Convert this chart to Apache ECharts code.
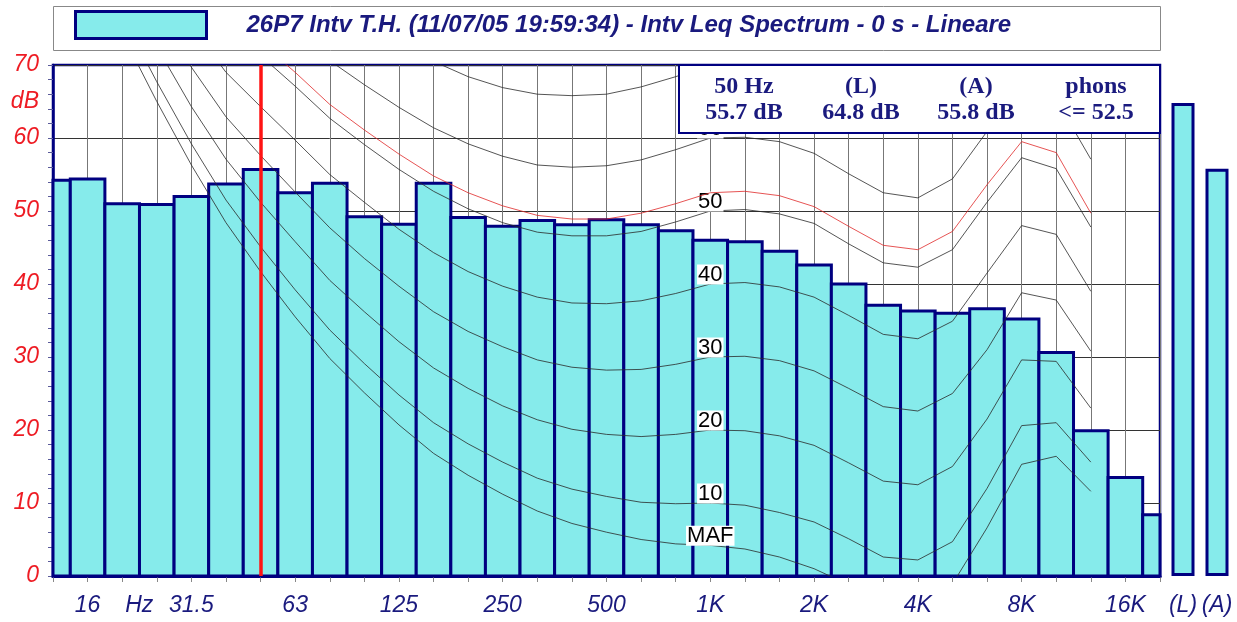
<!DOCTYPE html>
<html>
<head>
<meta charset="utf-8">
<script src="https://cdn.jsdelivr.net/npm/echarts@6/dist/echarts.min.js"></script>
<style>html,body{margin:0;padding:0;background:#fff;}#c{width:1237px;height:622px;}</style>
</head>
<body>
<div id="c"></div>
<script>
// 1/3-octave band centres (12.5 Hz .. 20 kHz)
const categories = ['12.5','16','20','25','31.5','40','50','63','80','100','125','160','200','250','315','400','500','630','800','1K','1.25K','1.6K','2K','2.5K','3.15K','4K','5K','6.3K','8K','10K','12.5K','16K','20K'];
const xTickLabels = ['','16','Hz','','31.5','','','63','','','125','','','250','','','500','','','1K','','','2K','','','4K','','','8K','','','16K',''];
// Leq spectrum (dB)
const levels = [54.2,54.4,51.0,50.9,52.0,53.7,55.7,52.5,53.8,49.2,48.2,53.8,49.1,47.9,48.7,48.1,48.8,48.1,47.3,46.0,45.8,44.5,42.6,40.0,37.1,36.3,36.0,36.6,35.2,30.6,19.9,13.5,8.4];
// overall values
const totalCats = ['(L)','(A)'];
const totalValues = [64.8,55.8];
const seriesTitle = '26P7 Intv T.H. (11/07/05 19:59:34) - Intv Leq Spectrum - 0 s - Lineare';
// equal-loudness contours (dB), per band
const contourMAF = [null,null,74.3,65.0,56.3,48.4,41.7,35.5,29.8,25.1,20.7,16.8,13.8,11.2,8.9,7.2,6.0,5.0,4.4,4.2,3.7,2.6,1.0,-1.2,-3.6,-3.9,-1.1,6.6,15.3,16.4,11.6,null,null];
const contour10 = [null,null,76.8,67.7,59.2,51.5,45.1,39.2,33.7,29.1,24.8,21.0,18.1,15.6,13.4,11.9,10.9,10.1,9.9,10,9.7,8.7,7.4,5.1,2.6,2.2,4.7,12.0,20.6,21.0,15.6,null,null];
const contour20 = [null,null,81.3,72.5,64.3,57.1,51.2,45.8,40.5,36.2,32.1,28.5,25.7,23.3,21.4,20.1,19.4,19.1,19.4,20,19.9,19.2,17.9,15.5,13.0,12.5,15.0,21.5,29.6,29.4,23.0,null,null];
const contour30 = [null,null,86.0,77.6,69.7,62.9,57.6,52.6,47.7,43.5,39.7,36.2,33.5,31.4,29.6,28.6,28.2,28.3,29.0,30,30.1,29.5,28.1,25.7,23.2,22.6,25.0,31.0,38.8,37.8,30.8,null,null];
const contour40 = [null,null,91.0,82.9,75.4,69.0,64.3,59.7,55.0,51.2,47.5,44.3,41.7,39.7,38.2,37.4,37.3,37.7,38.7,40,40.2,39.6,38.2,35.7,33.1,32.5,34.9,41.5,48.0,46.8,39.0,null,null];
const contour50 = [null,null,96.2,88.5,81.3,75.4,71.3,67.1,62.7,59.1,55.7,52.7,50.3,48.4,47.1,46.6,46.6,47.2,48.5,50,50.2,49.6,48.3,45.5,42.9,42.3,44.7,51.2,57.3,55.8,47.8,null,null];
const contour60 = [null,null,101.7,94.4,87.6,82.1,78.6,74.8,70.6,67.3,64.2,61.4,59.2,57.5,56.3,56.0,56.2,57.0,58.4,60,60.1,59.5,57.9,55.1,52.5,51.8,54.4,60.9,66.8,65.3,57.1,null,null];
const contour70 = [null,null,107.6,100.7,94.3,89.2,86.4,82.8,78.9,75.8,73.0,70.5,68.4,66.9,66.0,65.8,66.0,67.0,68.4,70,70.0,69.3,67.3,64.5,61.8,61.3,64.0,70.7,76.5,75.0,66.5,null,null];
const contourLoudness = [null,null,97.6,90.0,82.9,77.1,73.1,69.0,64.6,61.1,57.8,54.8,52.5,50.7,49.4,48.9,48.9,49.7,51.0,52.5,52.7,52.1,50.6,47.9,45.3,44.7,47.2,53.6,59.5,58.0,49.7,null,null];
const cursorIndex = 6;
const infoCols = [['50 Hz','55.7 dB'],['(L)','64.8 dB'],['(A)','55.8 dB'],['phons','<= 52.5']];

const NAVY = '#000080';
const TXT = '#1a1a7e';
const FILL = '#86ebeb';
const labelIdx = 19;
const lastIdx = categories.length - 1;

function contourSeries(name, values, showLabel, color, z) {
  return {
    name: name, type: 'line', xAxisIndex: 0, yAxisIndex: 0,
    symbol: 'none', showSymbol: true, silent: true, z: z || 3, clip: true,
    lineStyle: { color: color || '#2a2a2a', width: 0.8 },
    data: values.map(function (v, i) {
      if (showLabel && i === labelIdx) {
        return { value: [i, v], symbol: 'circle', symbolSize: 1,
          itemStyle: { color: '#2a2a2a' },
          label: { show: true, position: 'top', distance: -1, formatter: name,
            color: '#000', fontSize: 22, fontFamily: 'Liberation Sans',
            backgroundColor: '#fff', padding: [0, 1], lineHeight: 20 } };
      }
      return [i, v];
    })
  };
}

function renderBand(params, api) {
  const i = api.value(0), v = api.value(1);
  const p0 = api.coord([i - 0.5, v]);
  const p1 = api.coord([i + 0.5, 0]);
  const cs = params.coordSys;
  const shape = echarts.graphic.clipRectByRect(
    { x: p0[0], y: p0[1], width: p1[0] - p0[0], height: p1[1] - p0[1] },
    { x: cs.x, y: cs.y, width: cs.width, height: cs.height });
  if (!shape) return null;
  return { type: 'rect', shape: shape, style: { fill: FILL, stroke: NAVY, lineWidth: 3 } };
}

const chart = echarts.init(document.getElementById('c'), null, { renderer: 'canvas' });
const series = [
  {
    name: seriesTitle, type: 'custom', xAxisIndex: 0, yAxisIndex: 0, z: 2, silent: true,
    renderItem: renderBand, encode: { x: 0, y: 1 },
    itemStyle: { color: FILL, borderColor: NAVY, borderWidth: 3 },
    data: levels.map(function (v, i) { return [i, v]; })
  },
  contourSeries('MAF', contourMAF, true),
  contourSeries('10', contour10, true),
  contourSeries('20', contour20, true),
  contourSeries('30', contour30, true),
  contourSeries('40', contour40, true),
  contourSeries('50', contour50, true),
  contourSeries('60', contour60, true),
  contourSeries('70', contour70, false),
  Object.assign(contourSeries('52.5', contourLoudness, false, '#e02828', 4), {
    markLine: { silent: true, symbol: ['none', 'none'], label: { show: false },
      lineStyle: { color: '#ff1414', width: 3.5, type: 'solid' },
      data: [{ xAxis: cursorIndex }] }
  }),
  {
    name: 'totals', type: 'bar', xAxisIndex: 1, yAxisIndex: 3,
    data: totalValues, barWidth: 23, silent: true,
    itemStyle: { color: FILL, borderColor: NAVY, borderWidth: 3 }
  }
];

const graphic = [
  { type: 'rect', z: 0, shape: { x: 53.5, y: 6.5, width: 1107, height: 44 },
    style: { fill: '#fff', stroke: '#888', lineWidth: 1 } },
  { type: 'rect', z: 50, shape: { x: 679, y: 65, width: 481, height: 68 },
    style: { fill: '#fff', stroke: NAVY, lineWidth: 2 } }
];
const colX = [744, 861, 976, 1096];
infoCols.forEach(function (c, i) {
  [87, 113].forEach(function (yy, r) {
    graphic.push({ type: 'text', z: 51,
      style: { text: c[r], x: colX[i], y: yy, align: 'center', verticalAlign: 'middle',
        font: 'bold 24px "Liberation Serif"', fill: TXT } });
  });
});

const option = {
  animation: false,
  backgroundColor: '#fff',
  grid: [
    { left: 53, right: 77, top: 65, bottom: 46, show: true, borderColor: NAVY, borderWidth: 2.5, backgroundColor: '#fff', z: 0 },
    { left: 1166, width: 68, top: 65, bottom: 46 }
  ],
  legend: {
    data: [seriesTitle], left: 74, top: 10, padding: 0, icon: 'rect', itemWidth: 131, itemHeight: 27,
    itemStyle: { borderColor: NAVY, borderWidth: 3, color: FILL },
    textStyle: { color: TXT, fontSize: 24, fontStyle: 'italic', fontWeight: 'bold',
      fontFamily: 'Liberation Sans', padding: [0, 0, 0, 35] },
    selectedMode: false
  },
  xAxis: [
    { type: 'value', gridIndex: 0, min: 0, max: lastIdx, interval: 1,
      axisLine: { onZero: false, lineStyle: { color: NAVY, width: 3 } },
      axisTick: { show: true, length: 6, lineStyle: { color: '#888' } },
      axisLabel: { margin: 18, color: TXT, fontStyle: 'italic', fontSize: 23,
        fontFamily: 'Liberation Sans', showMinLabel: true, showMaxLabel: true,
        formatter: function (v) { const t = xTickLabels[Math.round(v)] || ''; return t === 'Hz' ? '{hz|Hz}' : t; },
        rich: { hz: { padding: [0, 0, 0, 34], color: TXT, fontStyle: 'italic', fontSize: 23, fontFamily: 'Liberation Sans' } } },
      splitLine: { show: true, lineStyle: { color: '#777', width: 1 } } },
    { type: 'category', gridIndex: 1, data: totalCats, boundaryGap: true,
      axisLine: { show: false }, axisTick: { show: false },
      axisLabel: { interval: 0, margin: 18, color: TXT, fontStyle: 'italic', fontSize: 23, fontFamily: 'Liberation Sans' } }
  ],
  yAxis: [
    { type: 'value', gridIndex: 0, min: 0, max: 70, interval: 2, position: 'left',
      axisLine: { show: true, lineStyle: { color: NAVY, width: 2.5 } },
      axisTick: { show: true, length: 5, lineStyle: { color: '#5a5a9a' } },
      axisLabel: { margin: 14, color: '#ee1c24', fontStyle: 'italic', fontSize: 23, fontFamily: 'Liberation Sans',
        formatter: function (v) { return v % 10 === 0 ? String(v) : ''; } },
      splitLine: { show: false } },
    { type: 'value', gridIndex: 0, min: 0, max: 70, interval: 10, position: 'left',
      axisLine: { show: false }, axisTick: { show: false }, axisLabel: { show: false },
      splitLine: { show: true, lineStyle: { color: '#333', width: 1 } } },
    { type: 'value', gridIndex: 0, min: 0, max: 70, interval: 5, position: 'left',
      axisLine: { show: false }, axisTick: { show: false }, splitLine: { show: false },
      axisLabel: { margin: 14, color: '#ee1c24', fontStyle: 'italic', fontSize: 23, fontFamily: 'Liberation Sans',
        formatter: function (v) { return v === 65 ? 'dB' : ''; } } },
    { type: 'value', gridIndex: 1, min: 0, max: 70, show: false }
  ],
  series: series,
  graphic: graphic
};
chart.setOption(option);
</script>
</body>
</html>
